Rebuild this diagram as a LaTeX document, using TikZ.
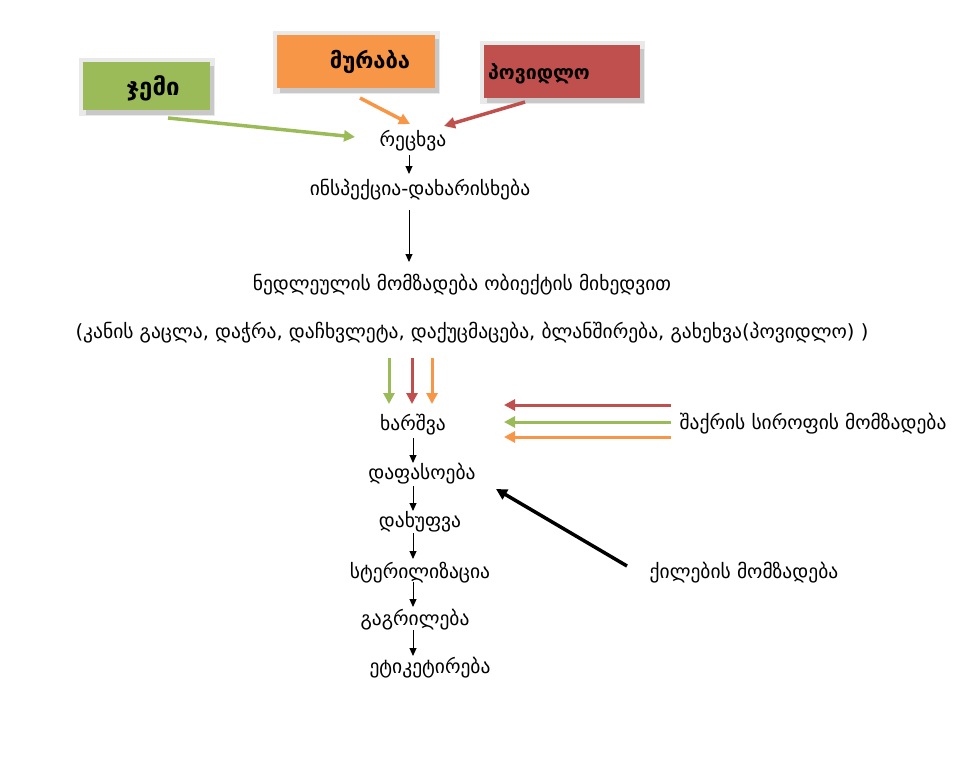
\documentclass[tikz,border=0pt]{standalone}
\usepackage{fontspec}
\setmainfont{DejaVu Sans}
\usetikzlibrary{arrows.meta}
\definecolor{cgreen}{HTML}{9BBB59}
\definecolor{corange}{HTML}{F79646}
\definecolor{cred}{HTML}{C0504D}
\definecolor{cshadow}{HTML}{C8C8C8}
\tikzset{
  lbl/.style={inner sep=1pt, font=\fontsize{19.5}{22}\selectfont},
  boxlbl/.style={font=\fontsize{23}{26}\selectfont\bfseries},
  thin/.style={-{Triangle[length=8pt,width=7pt]}, line width=1pt, black},
  thick/.style={-{Triangle[length=11pt,width=11pt]}, line width=3.5pt},
}
\begin{document}
\begin{tikzpicture}[x=1pt,y=-1pt]
\useasboundingbox (0,0) rectangle (962,760);
% boxes with shadows
\fill[cshadow!40] (79,58) rectangle (215,116);
\fill[cshadow] (86,66) rectangle (214,115);
\fill[cgreen] (83,62) rectangle (210,110);
\node[boxlbl, font=\fontsize{24}{27}\selectfont\bfseries] (jemi) at (153,88) {ჯემი};
\fill[cshadow!40] (273,31) rectangle (440,94);
\fill[cshadow] (280,39) rectangle (439,93);
\fill[corange] (277,35) rectangle (435,88);
\node[boxlbl, font=\fontsize{22}{25}\selectfont\bfseries] (muraba) at (370,62) {მურაბა};
\fill[cshadow!40] (480,41) rectangle (645,104);
\fill[cshadow] (487,49) rectangle (644,103);
\fill[cred] (484,45) rectangle (640,98);
\node[boxlbl, font=\fontsize{19.5}{22}\selectfont\bfseries] (povidlo) at (539,74) {პოვიდლო};
\coordinate (jemiS) at (168,118);
\coordinate (murabaS) at (360,98);
\coordinate (povidloS) at (525,102);
% main chain
\node[lbl] (rec) at (413,141) {რეცხვა};
\node[lbl] (insp) at (420,190) {ინსპექცია-დახარისხება};
\node[lbl] (ned) at (462,285) {ნედლეულის მომზადება ობიექტის მიხედვით};
\node[lbl] (kan) at (472,333) {(კანის გაცლა, დაჭრა, დაჩხვლეტა, დაქუცმაცება, ბლანშირება, გახეხვა(პოვიდლო) )};
\node[lbl] (xar) at (413,425) {ხარშვა};
\node[lbl] (shaq) at (813,424) {შაქრის სიროფის მომზადება};
\node[lbl] (daf) at (422,474) {დაფასოება};
\node[lbl] (dax) at (420,522) {დახუფვა};
\node[lbl] (ster) at (420,573) {სტერილიზაცია};
\node[lbl] (gag) at (415,620) {გაგრილება};
\node[lbl] (etik) at (430,668) {ეტიკეტირება};
\node[lbl] (qil) at (744,573) {ქილების მომზადება};
% colored arrows into რეცხვა
\draw[thick, cgreen] (jemiS) -- (355,137);
\draw[thick, corange] (murabaS) -- (410,124);
\draw[thick, cred] (povidloS) -- (444,126);
% black chain arrows
\draw[thin] (409,155) -- (409,174);
\draw[thin] (409,210) -- (409,262);
\draw[thin] (413,438) -- (413,463);
\draw[thin] (413,486) -- (413,511);
\draw[thin] (413,533) -- (413,559);
\draw[thin] (413,582) -- (413,607);
\draw[thin] (413,630) -- (413,656);
% three vertical arrows into ხარშვა
\draw[thick, line width=3pt, cgreen] (389,358) -- (389,404);
\draw[thick, line width=3pt, cred] (412,358) -- (412,404);
\draw[thick, line width=3pt, corange] (432,358) -- (432,404);
% horizontal arrows from სიროფი
\draw[thick, line width=3pt, cred] (671,405) -- (504,405);
\draw[thick, line width=3pt, cgreen] (671,422) -- (504,422);
\draw[thick, line width=3pt, corange] (671,437) -- (504,437);
% black thick arrow
\draw[thick, black, line width=3.5pt] (627,566) -- (496,489);
\end{tikzpicture}
\end{document}
